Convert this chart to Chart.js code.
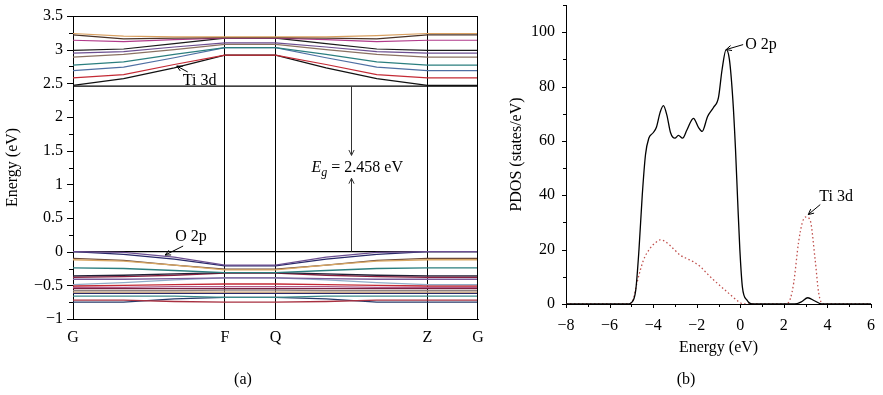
<!DOCTYPE html>
<html>
<head>
<meta charset="utf-8">
<script src="https://cdn.jsdelivr.net/npm/chart.js@4.4.1/dist/chart.umd.min.js"></script>
<style>
  html, body { margin: 0; padding: 0; background: #fff; }
  #wrap { position: relative; width: 883px; height: 395px; overflow: hidden; }
  #bandBox { position: absolute; left: 0; top: 0; width: 500px; height: 395px; }
  #dosBox { position: absolute; left: 480px; top: 0; width: 403px; height: 395px; }
</style>
</head>
<body>
<div id="wrap">
  <div id="bandBox"><canvas id="bandChart" width="500" height="395"></canvas></div>
  <div id="dosBox"><canvas id="dosChart" width="403" height="395"></canvas></div>
</div>
<script>
// ---- (a) band structure ----
const kGrid = [0, 1, 2, 3, 4, 5, 6, 7, 8];
const kTickPos = [0, 3, 4, 7, 8];
const kTickLabels = ['G', 'F', 'Q', 'Z', 'G'];
const energyTicks = [-1, -0.5, 0, 0.5, 1, 1.5, 2, 2.5, 3, 3.5];
const gapValue = 2.458;

// conduction bands (Ti 3d), values at each kGrid point
const condBands = [
  [3.24, 3.20, 3.19, 3.19, 3.19, 3.19, 3.21, 3.24, 3.24],
  [3.22, 3.16, 3.17, 3.18, 3.18, 3.17, 3.16, 3.22, 3.22],
  [3.14, 3.12, 3.15, 3.17, 3.17, 3.15, 3.12, 3.14, 3.14],
  [2.99, 3.01, 3.09, 3.17, 3.17, 3.09, 3.01, 2.99, 2.99],
  [2.95, 2.97, 3.04, 3.10, 3.10, 3.04, 2.97, 2.95, 2.95],
  [2.89, 2.93, 3.00, 3.08, 3.08, 3.00, 2.93, 2.89, 2.89],
  [2.77, 2.82, 2.93, 3.03, 3.03, 2.93, 2.82, 2.77, 2.77],
  [2.69, 2.74, 2.88, 3.03, 3.03, 2.88, 2.74, 2.69, 2.69],
  [2.58, 2.63, 2.78, 2.92, 2.92, 2.78, 2.63, 2.58, 2.58],
  [2.47, 2.57, 2.73, 2.92, 2.92, 2.73, 2.57, 2.47, 2.47]
];
const condColors = ['#d9a060', '#4a3328', '#b03a8a', '#1a1a1a', '#6c4f91',
  '#8b7262', '#2b7f7f', '#4f6fa3', '#c42a35', '#111111'];

// valence bands (O 2p)
const valBands = [
  [0.00, -0.01, -0.08, -0.20, -0.20, -0.08, -0.01, 0.00, 0.00],
  [0.00, -0.04, -0.11, -0.21, -0.21, -0.11, -0.04, 0.00, 0.00],
  [-0.12, -0.14, -0.20, -0.27, -0.27, -0.20, -0.14, -0.12, -0.12],
  [-0.10, -0.13, -0.20, -0.26, -0.26, -0.20, -0.13, -0.10, -0.10],
  [-0.24, -0.25, -0.28, -0.31, -0.31, -0.28, -0.25, -0.24, -0.24],
  [-0.36, -0.35, -0.33, -0.31, -0.31, -0.33, -0.35, -0.36, -0.36],
  [-0.38, -0.37, -0.35, -0.32, -0.32, -0.35, -0.37, -0.38, -0.38],
  [-0.41, -0.41, -0.40, -0.39, -0.39, -0.40, -0.41, -0.41, -0.41],
  [-0.49, -0.46, -0.42, -0.39, -0.39, -0.42, -0.46, -0.49, -0.49],
  [-0.51, -0.50, -0.49, -0.48, -0.48, -0.49, -0.50, -0.51, -0.51],
  [-0.53, -0.53, -0.52, -0.52, -0.52, -0.52, -0.53, -0.53, -0.53],
  [-0.55, -0.55, -0.55, -0.55, -0.55, -0.55, -0.55, -0.55, -0.55],
  [-0.58, -0.58, -0.58, -0.57, -0.57, -0.58, -0.58, -0.58, -0.58],
  [-0.60, -0.60, -0.60, -0.60, -0.60, -0.60, -0.60, -0.60, -0.60],
  [-0.62, -0.62, -0.62, -0.62, -0.62, -0.62, -0.62, -0.62, -0.62],
  [-0.66, -0.66, -0.66, -0.68, -0.68, -0.66, -0.66, -0.66, -0.66],
  [-0.72, -0.72, -0.74, -0.75, -0.75, -0.74, -0.72, -0.72, -0.72],
  [-0.75, -0.75, -0.70, -0.68, -0.68, -0.70, -0.75, -0.75, -0.75]
];
const valColors = ['#6c4f91', '#2a2a6a', '#d9a865', '#6b4a3a', '#2b7f7f', '#222238',
  '#8a2040', '#7a5a9a', '#90acc8', '#c42a35', '#b05a8a', '#7a2040', '#8a8080',
  '#c9a070', '#2a2a6a', '#3a8a8a', '#a83040', '#263a6a'];

// ---- (b) PDOS ----
const o2pEnergy = [-8, -5.2, -5.0, -4.8, -4.65, -4.5, -4.35, -4.2, -4.0, -3.85, -3.68, -3.53,
  -3.37, -3.2, -3.0, -2.84, -2.65, -2.45, -2.15, -1.92, -1.75, -1.5, -1.23, -1.0, -0.84,
  -0.65, -0.5, -0.34, -0.22, -0.12, -0.02, 0.1, 0.3, 0.55, 2.5, 2.8, 3.1, 3.4, 3.75, 6];
const o2pDos = [0, 0, 0.5, 5, 20, 40, 55, 61, 63, 65, 70.5, 73,
  69.5, 63, 61, 62, 61, 64, 68.3, 65, 63.5, 69, 72.3, 76, 86,
  93.6, 90, 75, 57, 38, 20, 6, 1.5, 0, 0, 0.8, 2.3, 1.2, 0, 0];
const ti3dEnergy = [-8, -5.1, -4.9, -4.75, -4.45, -4.14, -3.9, -3.68, -3.45, -3.22, -2.76,
  -2.4, -2.15, -1.84, -1.5, -1.23, -0.61, -0.08, 0.15, 2.1, 2.3, 2.45, 2.68, 2.85, 3.0,
  3.2, 3.44, 3.6, 3.8, 6];
const ti3dDos = [0, 0, 2, 7.5, 16, 20.5, 22.5, 23.6, 23, 21.5, 18,
  16.5, 15.5, 13.8, 11, 8.9, 4.5, 0.9, 0, 0, 2, 7.7, 23, 30, 32,
  31, 16, 4, 0, 0];
const dosXTicks = [-8, -6, -4, -2, 0, 2, 4, 6];
const dosYTicks = [0, 20, 40, 60, 80, 100];

const serif = "'Liberation Serif', 'DejaVu Serif', serif";
const fs = 16;
const minus = v => String(v).replace('-', '\u2212');

function arrow(ctx, x1, y1, x2, y2, head) {
  const a = Math.atan2(y2 - y1, x2 - x1);
  ctx.beginPath();
  ctx.moveTo(x1, y1);
  ctx.lineTo(x2, y2);
  ctx.moveTo(x2 - head * Math.cos(a - 0.45), y2 - head * Math.sin(a - 0.45));
  ctx.lineTo(x2, y2);
  ctx.lineTo(x2 - head * Math.cos(a + 0.45), y2 - head * Math.sin(a + 0.45));
  ctx.stroke();
}

function toXY(xs, ys) {
  return xs.map((x, i) => ({ x: x, y: ys[i] }));
}

function noPadY(s) { s.paddingTop = 0; s.paddingBottom = 0; }
function noPadX(s) { s.paddingLeft = 0; s.paddingRight = 0; }

const bandDatasets = [];
valBands.forEach((b, i) => bandDatasets.push({
  data: toXY(kGrid, b), borderColor: valColors[i], borderWidth: 1.3
}));
condBands.forEach((b, i) => bandDatasets.push({
  data: toXY(kGrid, b), borderColor: condColors[i], borderWidth: 1.2
}));
bandDatasets.push({ data: toXY([0, 8], [0, 0]), borderColor: '#000', borderWidth: 1.2 });
bandDatasets.push({ data: toXY([0, 8], [gapValue, gapValue]), borderColor: '#000', borderWidth: 1.2 });

const bandExtras = {
  id: 'bandExtras',
  afterDraw(chart) {
    const { ctx, chartArea: a, scales: { x, y } } = chart;
    ctx.save();
    ctx.strokeStyle = '#000';
    ctx.lineWidth = 1;
    // frame top/right
    ctx.beginPath();
    ctx.moveTo(a.left, Math.round(a.top) + 0.5);
    ctx.lineTo(a.right, Math.round(a.top) + 0.5);
    ctx.moveTo(Math.round(a.right) - 0.5, a.top);
    ctx.lineTo(Math.round(a.right) - 0.5, a.bottom);
    ctx.stroke();
    // y ticks, major + minor
    ctx.beginPath();
    for (let v = -1; v <= 3.5001; v += 0.25) {
      const py = Math.round(y.getPixelForValue(v)) + 0.5;
      const major = Math.abs(v * 2 - Math.round(v * 2)) < 1e-6;
      ctx.moveTo(a.left, py);
      ctx.lineTo(a.left - (major ? 6 : 4), py);
    }
    ctx.stroke();
    // gap arrows
    const gx = Math.round(x.getPixelForValue(5.5)) + 0.5;
    ctx.strokeStyle = '#333';
    arrow(ctx, gx, y.getPixelForValue(gapValue), gx, y.getPixelForValue(1.43), 6);
    arrow(ctx, gx, y.getPixelForValue(0), gx, y.getPixelForValue(1.09), 6);
    // labels
    ctx.fillStyle = '#000';
    ctx.textBaseline = 'alphabetic';
    let tx = gx - 40, ty = y.getPixelForValue(1.257) + 5;
    ctx.font = 'italic ' + fs + 'px ' + serif;
    ctx.fillText('E', tx, ty);
    tx += ctx.measureText('E').width;
    ctx.font = 'italic 12px ' + serif;
    ctx.fillText('g', tx, ty + 4);
    tx += ctx.measureText('g').width;
    ctx.font = fs + 'px ' + serif;
    ctx.fillText(' = 2.458 eV', tx, ty);

    ctx.strokeStyle = '#000';
    const tiX = x.getPixelForValue(2.05), tiY = y.getPixelForValue(2.757);
    arrow(ctx, tiX + 11, tiY + 6, tiX, tiY, 6);
    ctx.fillText('Ti 3d', tiX + 6, tiY + 19);
    const oX = x.getPixelForValue(1.82), oY = y.getPixelForValue(-0.05);
    arrow(ctx, oX + 18, oY - 9, oX, oY, 6);
    ctx.fillText('O 2p', oX + 10, oY - 14);
    ctx.textAlign = 'center';
    ctx.fillText('(a)', 243, 384);
    ctx.restore();
  }
};

new Chart(document.getElementById('bandChart'), {
  type: 'line',
  data: { datasets: bandDatasets },
  options: {
    responsive: false,
    animation: false,
    devicePixelRatio: 1,
    layout: { padding: { top: 16, right: 22, left: 0, bottom: 0 } },
    elements: { point: { radius: 0 }, line: { tension: 0 } },
    plugins: { legend: { display: false }, tooltip: { enabled: false } },
    scales: {
      x: {
        type: 'linear', min: 0, max: 8,
        afterBuildTicks: s => { s.ticks = kTickPos.map(v => ({ value: v })); },
        afterFit: s => { s.height = 76; noPadX(s); },
        grid: {
          color: c => (c.tick && c.tick.value > 0 && c.tick.value < 8) ? '#000' : 'rgba(0,0,0,0)',
          lineWidth: 1, drawTicks: false
        },
        border: { display: true, color: '#000', width: 1 },
        ticks: {
          autoSkip: false, maxRotation: 0, padding: 9, color: '#000',
          font: { family: serif, size: fs },
          callback: (v, i) => kTickLabels[i]
        }
      },
      y: {
        min: -1, max: 3.5,
        afterBuildTicks: s => { s.ticks = energyTicks.map(v => ({ value: v })); },
        afterFit: s => { s.width = 73; noPadY(s); },
        grid: { display: false, drawTicks: false },
        border: { display: true, color: '#000', width: 1 },
        ticks: {
          padding: 10, color: '#000',
          font: { family: serif, size: fs },
          callback: v => minus(v)
        },
        title: {
          display: true, text: 'Energy (eV)', color: '#000',
          font: { family: serif, size: fs }, padding: { top: 3, bottom: 0 }
        }
      }
    }
  },
  plugins: [bandExtras]
});

const dosExtras = {
  id: 'dosExtras',
  afterDraw(chart) {
    const { ctx, chartArea: a, scales: { x, y } } = chart;
    ctx.save();
    ctx.strokeStyle = '#000';
    ctx.lineWidth = 1;
    ctx.beginPath();
    for (let v = 0; v <= 110; v += 10) {
      const py = Math.round(y.getPixelForValue(v)) + 0.5;
      ctx.moveTo(a.left, py);
      ctx.lineTo(a.left - (v % 20 === 0 ? 4 : 3), py);
    }
    for (let v = -8; v <= 6; v += 1) {
      const px = Math.round(x.getPixelForValue(v)) + 0.5;
      ctx.moveTo(px, a.bottom);
      ctx.lineTo(px, a.bottom + (v % 2 === 0 ? 4 : 3));
    }
    ctx.stroke();
    ctx.fillStyle = '#000';
    ctx.font = fs + 'px ' + serif;
    ctx.textBaseline = 'alphabetic';
    const oX = x.getPixelForValue(-0.65), oY = y.getPixelForValue(93.6);
    arrow(ctx, oX + 17, oY - 5, oX, oY, 6);
    ctx.fillText('O 2p', oX + 19, oY - 1);
    const tX = x.getPixelForValue(3.12), tY = y.getPixelForValue(32.9);
    arrow(ctx, tX + 12, tY - 10, tX, tY, 6);
    ctx.fillText('Ti 3d', tX + 11, tY - 14);
    ctx.textAlign = 'center';
    ctx.fillText('(b)', 686 - 480, 384);
    ctx.restore();
  }
};

new Chart(document.getElementById('dosChart'), {
  type: 'line',
  data: {
    datasets: [
      {
        label: 'O 2p', data: toXY(o2pEnergy, o2pDos),
        borderColor: '#000', borderWidth: 1.3, cubicInterpolationMode: 'monotone'
      },
      {
        label: 'Ti 3d', data: toXY(ti3dEnergy, ti3dDos),
        borderColor: '#c0504d', borderWidth: 1.3, borderDash: [1.5, 2.5],
        cubicInterpolationMode: 'monotone'
      }
    ]
  },
  options: {
    responsive: false,
    animation: false,
    devicePixelRatio: 1,
    layout: { padding: { top: 5, right: 12, left: 0, bottom: 0 } },
    elements: { point: { radius: 0 } },
    plugins: { legend: { display: false }, tooltip: { enabled: false } },
    scales: {
      x: {
        type: 'linear', min: -8, max: 6,
        afterBuildTicks: s => { s.ticks = dosXTicks.map(v => ({ value: v })); },
        afterFit: s => { s.height = 91; noPadX(s); },
        grid: { display: false, drawTicks: false },
        border: { display: true, color: '#000', width: 1 },
        ticks: {
          autoSkip: false, maxRotation: 0, padding: 12, color: '#000',
          font: { family: serif, size: fs },
          callback: v => minus(v)
        },
        title: {
          display: true, text: 'Energy (eV)', color: '#000',
          font: { family: serif, size: fs }, padding: { top: 0, bottom: 38 }
        }
      },
      y: {
        min: 0, max: 110,
        afterBuildTicks: s => { s.ticks = dosYTicks.map(v => ({ value: v })); },
        afterFit: s => { s.width = 86; noPadY(s); },
        grid: { display: false, drawTicks: false },
        border: { display: true, color: '#000', width: 1 },
        ticks: {
          padding: 11, color: '#000',
          font: { family: serif, size: fs }
        },
        title: {
          display: true, text: 'PDOS (states/eV)', color: '#000',
          font: { family: serif, size: fs }, padding: { top: 27, bottom: 0 }
        }
      }
    }
  },
  plugins: [dosExtras]
});
</script>
</body>
</html>
